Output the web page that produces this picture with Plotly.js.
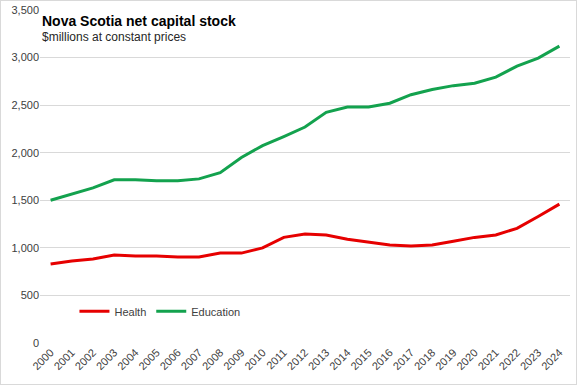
<!DOCTYPE html>
<html>
<head>
<meta charset="utf-8">
<script src="https://cdn.plot.ly/plotly-3.0.1.min.js"></script>
<style>
html,body{margin:0;padding:0;background:#fff;}
#chart{width:575px;height:383px;border:1px solid #d9d9d9;}
</style>
</head>
<body>
<div id="chart"></div>
<script>
const years = ["2000","2001","2002","2003","2004","2005","2006","2007","2008","2009","2010","2011","2012","2013","2014","2015","2016","2017","2018","2019","2020","2021","2022","2023","2024"];
const health = [830,862,882,925,915,915,905,905,945,945,1000,1110,1145,1135,1090,1060,1030,1020,1030,1070,1110,1135,1205,1330,1460];
const education = [1500,1565,1630,1715,1715,1705,1705,1725,1790,1950,2075,2170,2270,2425,2480,2480,2520,2610,2665,2705,2730,2795,2910,2995,3120];
const yTicks = [0,500,1000,1500,2000,2500,3000,3500];

const traces = [
  {x: years, y: health, name: "Health", type: "scatter", mode: "lines",
   line: {color: "#e60000", width: 3}},
  {x: years, y: education, name: "Education", type: "scatter", mode: "lines",
   line: {color: "#13a24e", width: 3}}
];

const layout = {
  width: 575, height: 383,
  margin: {l: 39, r: 6, t: 9, b: 41},
  paper_bgcolor: "#fff", plot_bgcolor: "#fff",
  font: {family: "Liberation Sans, Arial, sans-serif", size: 11, color: "#595959"},
  showlegend: true,
  legend: {orientation: "h", x: 0.065, y: 0.095, xanchor: "left", yanchor: "middle",
           itemwidth: 30, font: {size: 11, color: "#404040"}, bgcolor: "rgba(0,0,0,0)", traceorder: "normal"},
  xaxis: {type: "category", tickangle: -45, showgrid: false, zeroline: false,
          showline: false, ticks: "", tickfont: {size: 11, color: "#404040"},
          range: [-0.5, 24.5], fixedrange: true},
  yaxis: {range: [0, 3500], tickvals: yTicks, tickformat: ",d", showgrid: true,
          gridcolor: "#d9d9d9", gridwidth: 1, zeroline: false, showline: false,
          ticks: "", tickfont: {size: 11, color: "#404040"}, fixedrange: true},
  annotations: [
    {text: "<b>Nova Scotia net capital stock</b>", xref: "paper", yref: "paper",
     x: 0.0, y: 0.998, xanchor: "left", yanchor: "top", showarrow: false,
     font: {size: 14, color: "#000"}},
    {text: "$millions at constant prices", xref: "paper", yref: "paper",
     x: 0.0, y: 0.945, xanchor: "left", yanchor: "top", showarrow: false,
     font: {size: 12, color: "#262626"}}
  ]
};

Plotly.newPlot("chart", traces, layout, {displayModeBar: false, staticPlot: true});
</script>
</body>
</html>
